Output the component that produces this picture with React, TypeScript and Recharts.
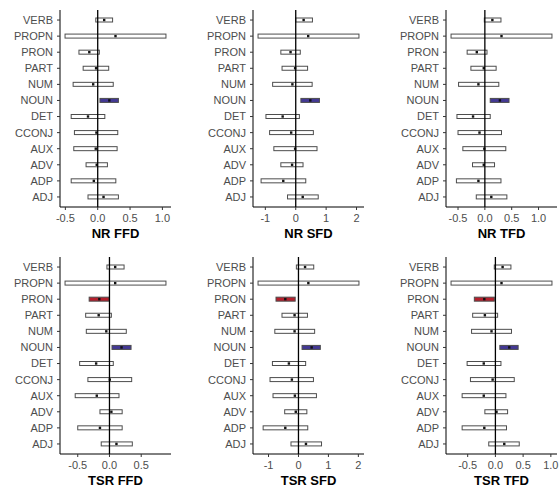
import { ComposedChart, Bar, XAxis, YAxis, ReferenceLine } from "recharts";

const categories = ["VERB", "PROPN", "PRON", "PART", "NUM", "NOUN", "DET", "CCONJ", "AUX", "ADV", "ADP", "ADJ"];

// NR FFD
const nrFfdLow = [-0.03, -0.505, -0.29, -0.225, -0.38, 0.035, -0.41, -0.36, -0.37, -0.18, -0.41, -0.15];
const nrFfdEst = [0.1, 0.275, -0.13, -0.025, -0.07, 0.18, -0.15, -0.02, -0.03, -0.015, -0.06, 0.09];
const nrFfdHigh = [0.23, 1.055, 0.025, 0.17, 0.24, 0.32, 0.11, 0.31, 0.3, 0.15, 0.28, 0.32];

// NR SFD
const nrSfdLow = [0.0, -1.24, -0.49, -0.45, -0.76, 0.17, -0.98, -0.86, -0.72, -0.49, -1.14, -0.27];
const nrSfdEst = [0.26, 0.41, -0.17, -0.02, -0.11, 0.48, -0.43, -0.15, -0.02, -0.12, -0.41, 0.23];
const nrSfdHigh = [0.55, 2.08, 0.15, 0.39, 0.54, 0.78, 0.12, 0.58, 0.7, 0.24, 0.33, 0.74];

// NR TFD
const nrTfdLow = [-0.01, -0.63, -0.33, -0.26, -0.49, 0.1, -0.52, -0.5, -0.41, -0.23, -0.53, -0.16];
const nrTfdEst = [0.14, 0.31, -0.15, -0.02, -0.12, 0.28, -0.22, -0.1, -0.01, -0.02, -0.12, 0.12];
const nrTfdHigh = [0.3, 1.25, 0.04, 0.21, 0.26, 0.45, 0.1, 0.31, 0.39, 0.18, 0.3, 0.41];

// TSR FFD
const tsrFfdLow = [-0.04, -0.7, -0.32, -0.375, -0.365, 0.04, -0.47, -0.34, -0.54, -0.15, -0.5, -0.13];
const tsrFfdEst = [0.09, 0.09, -0.16, -0.17, -0.05, 0.19, -0.21, 0.005, -0.2, 0.03, -0.15, 0.11];
const tsrFfdHigh = [0.23, 0.89, -0.005, 0.03, 0.265, 0.34, 0.06, 0.35, 0.15, 0.2, 0.2, 0.36];

// TSR SFD
const tsrSfdLow = [-0.07, -1.35, -0.75, -0.55, -0.79, 0.12, -0.87, -0.95, -0.85, -0.46, -1.18, -0.25];
const tsrSfdEst = [0.22, 0.33, -0.44, -0.13, -0.13, 0.44, -0.32, -0.22, -0.12, -0.09, -0.44, 0.25];
const tsrSfdHigh = [0.51, 2.02, -0.11, 0.3, 0.54, 0.73, 0.24, 0.5, 0.6, 0.28, 0.31, 0.77];

// TSR TFD
const tsrTfdLow = [-0.02, -0.8, -0.38, -0.41, -0.43, 0.08, -0.51, -0.45, -0.6, -0.19, -0.6, -0.12];
const tsrTfdEst = [0.13, 0.11, -0.2, -0.19, -0.07, 0.25, -0.21, -0.05, -0.21, 0.02, -0.2, 0.16];
const tsrTfdHigh = [0.28, 1.02, -0.02, 0.04, 0.29, 0.41, 0.1, 0.34, 0.19, 0.22, 0.2, 0.43];

// categories whose interval excludes zero
const nrSig = ["NOUN"];
const tsrSig = ["PRON", "NOUN"];

const ticksHalf = [-0.5, 0, 0.5, 1];
const ticksHalfShort = [-0.5, 0, 0.5];
const ticksOne = [-1, 0, 1, 2];

const FONT = "'Liberation Sans', Arial, Helvetica, sans-serif";
const POS_FILL = "#433894";
const NEG_FILL = "#b51f2c";

const buildRows = (low: number[], est: number[], high: number[], sig: string[]) =>
  categories.map((pos, i) => ({
    pos,
    low: low[i],
    est: est[i],
    high: high[i],
    range: [low[i], high[i]],
    fill: sig.includes(pos) ? (est[i] > 0 ? POS_FILL : NEG_FILL) : "#ffffff",
  }));

const IntervalShape = (props: any) => {
  const { x, y, width, height, payload } = props;
  const x0 = Math.min(x, x + width);
  const w = Math.abs(width);
  const t = (payload.est - payload.low) / (payload.high - payload.low);
  const cx = x0 + w * t;
  const cy = y + height / 2;
  return (
    <g>
      <rect x={x0} y={y} width={w} height={height} fill={payload.fill} stroke="#4d4d4d" strokeWidth={1} />
      <rect x={cx - 1.2} y={cy - 1.2} width={2.4} height={2.4} fill="#111111" />
    </g>
  );
};

interface PanelProps {
  title: string;
  low: number[];
  est: number[];
  high: number[];
  sig: string[];
  ticks: number[];
  decimals: number;
  left: number;
  top: number;
  axisWidth: number;
  marginTop: number;
}

function Panel({ title, low, est, high, sig, ticks, decimals, left, top, axisWidth, marginTop }: PanelProps) {
  const rows = buildRows(low, est, high, sig);
  const mn = Math.min(...low);
  const mx = Math.max(...high);
  const pad = (mx - mn) * 0.05;
  const plotWidth = 111;
  const plotHeight = 197;
  const axisHeight = 34;

  return (
    <div style={{ position: "absolute", left, top }}>
      <ComposedChart
        layout="vertical"
        width={axisWidth + plotWidth + 3}
        height={marginTop + plotHeight + axisHeight}
        data={rows}
        margin={{ top: marginTop, right: 3, left: 0, bottom: 0 }}
      >
        <XAxis
          type="number"
          domain={[mn - pad, mx + pad]}
          ticks={ticks}
          allowDataOverflow
          height={axisHeight}
          tickSize={3}
          tickMargin={4}
          tickFormatter={(v: number) => v.toFixed(decimals)}
          tick={{ fill: "#4d4d4d", fontSize: 11, fontFamily: FONT }}
          axisLine={{ stroke: "#000000", strokeWidth: 1 }}
          tickLine={{ stroke: "#333333" }}
          label={{
            value: title,
            position: "insideBottom",
            offset: 3,
            style: { fill: "#000000", fontSize: 13, fontWeight: "bold", fontFamily: FONT },
          }}
        />
        <YAxis
          type="category"
          dataKey="pos"
          width={axisWidth}
          interval={0}
          tickSize={3}
          tickMargin={4}
          padding={{ top: 2, bottom: 2 }}
          tick={{ fill: "#4d4d4d", fontSize: 11, fontFamily: FONT }}
          axisLine={{ stroke: "#000000", strokeWidth: 1 }}
          tickLine={{ stroke: "#333333" }}
        />
        <Bar dataKey="range" barSize={4} shape={IntervalShape} isAnimationActive={false} />
        <ReferenceLine x={0} stroke="#000000" strokeWidth={1.3} />
      </ComposedChart>
    </div>
  );
}

export default function App() {
  return (
    <div
      style={{
        position: "absolute",
        left: 0,
        top: 0,
        width: 560,
        height: 488,
        overflow: "hidden",
        background: "#ffffff",
      }}
    >
      <Panel title="NR FFD" low={nrFfdLow} est={nrFfdEst} high={nrFfdHigh} sig={nrSig} ticks={ticksHalf} decimals={1} left={0} top={0} axisWidth={60} marginTop={10} />
      <Panel title="NR SFD" low={nrSfdLow} est={nrSfdEst} high={nrSfdHigh} sig={nrSig} ticks={ticksOne} decimals={0} left={185} top={0} axisWidth={68} marginTop={10} />
      <Panel title="NR TFD" low={nrTfdLow} est={nrTfdEst} high={nrTfdHigh} sig={nrSig} ticks={ticksHalf} decimals={1} left={370} top={0} axisWidth={76} marginTop={10} />
      <Panel title="TSR FFD" low={tsrFfdLow} est={tsrFfdEst} high={tsrFfdHigh} sig={tsrSig} ticks={ticksHalfShort} decimals={1} left={0} top={245} axisWidth={60} marginTop={12} />
      <Panel title="TSR SFD" low={tsrSfdLow} est={tsrSfdEst} high={tsrSfdHigh} sig={tsrSig} ticks={ticksOne} decimals={0} left={185} top={245} axisWidth={68} marginTop={12} />
      <Panel title="TSR TFD" low={tsrTfdLow} est={tsrTfdEst} high={tsrTfdHigh} sig={tsrSig} ticks={ticksHalf} decimals={1} left={370} top={245} axisWidth={76} marginTop={12} />
    </div>
  );
}
